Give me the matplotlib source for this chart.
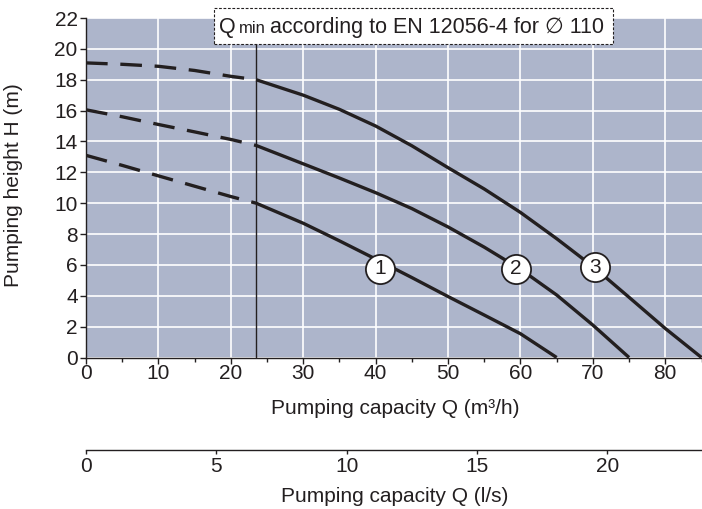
import matplotlib
matplotlib.use("Agg")
import matplotlib.pyplot as plt
from matplotlib.patches import Rectangle

plt.rcParams['font.family'] = ['Liberation Sans Narrow', 'Liberation Sans', 'DejaVu Sans']

# ---- data ----
q_min = 23.5
q_dash = [0, 5, 10, 15, 20, 23.5]
h1_dash = [13.1, 12.45, 11.77, 11.1, 10.43, 10.0]
h2_dash = [16.05, 15.6, 15.1, 14.62, 14.13, 13.74]
h3_dash = [19.09, 19.0, 18.87, 18.6, 18.22, 18.0]

q1 = [23.5, 30, 35, 40, 45, 50, 55, 60, 65]
h1 = [10.0, 8.7, 7.56, 6.38, 5.18, 3.95, 2.75, 1.54, 0.0]
q2 = [23.5, 30, 35, 40, 45, 50, 55, 60, 65, 70, 75]
h2 = [13.74, 12.55, 11.63, 10.68, 9.65, 8.46, 7.15, 5.72, 4.05, 2.1, 0.0]
q3 = [23.5, 30, 35, 40, 45, 50, 55, 60, 65, 70, 75, 80, 85]
h3 = [18.0, 17.0, 16.08, 15.0, 13.72, 12.3, 10.92, 9.4, 7.7, 5.9, 3.9, 1.88, 0.0]

label_names = ['1', '2', '3']
label_q = [40.6, 59.4, 70.3]
label_h = [5.75, 5.75, 5.85]

x_ticks = [0, 10, 20, 30, 40, 50, 60, 70, 80]
y_ticks = [0, 2, 4, 6, 8, 10, 12, 14, 16, 18, 20, 22]
ls_ticks = [0, 5, 10, 15, 20]

W, H = 702, 509
fig = plt.figure(figsize=(W / 100, H / 100), dpi=100)

def fx(px):
    return px / W

def fy(py):
    return 1 - py / H

lc = '#231f20'
left, right, top, bottom = 86, 701.5, 18, 357.5
ax = fig.add_axes([fx(left), fy(bottom), fx(right) - fx(left), fy(top) - fy(bottom)])
ax.set_facecolor('#adb5cb')
ax.set_xlim(0, 85)
ax.set_ylim(0, 22)
ax.set_xticks(x_ticks)
ax.set_xticks(range(0, 86, 5), minor=True)
ax.set_yticks(y_ticks)
ax.grid(True, which='major', color='white', lw=1.2)
ax.set_axisbelow(True)
for s in ['top', 'right']:
    ax.spines[s].set_visible(False)
for s in ['left', 'bottom']:
    ax.spines[s].set_color(lc)
    ax.spines[s].set_linewidth(1.0)
ax.tick_params(axis='both', which='major', length=4, width=1.0, color=lc,
               labelsize=15, labelcolor=lc, pad=2)
ax.tick_params(axis='x', which='major', pad=1)
ax.tick_params(axis='x', which='minor', length=3, width=1.0, color=lc)

fig.text(fx(395), fy(408), 'Pumping capacity Q (m³/h)', fontsize=15, color=lc,
         ha='center', va='center')
fig.text(fx(14), fy(185), 'Pumping height H (m)', fontsize=15, color=lc,
         ha='center', va='center', rotation=90)

lw = 2.4
dash = (0, (6.5, 3.8))
for hd in (h1_dash, h2_dash, h3_dash):
    ax.plot(q_dash, hd, color=lc, lw=lw, ls=dash, solid_capstyle='butt', dash_capstyle='butt')
for qq, hh in ((q1, h1), (q2, h2), (q3, h3)):
    ax.plot(qq, hh, color=lc, lw=lw, solid_capstyle='butt', solid_joinstyle='round')

ax.axvline(q_min, color=lc, lw=1.0, zorder=3)

for name, qx, hy in zip(label_names, label_q, label_h):
    ax.plot([qx], [hy], marker='o', ms=21, mfc='white', mec=lc, mew=1.3, zorder=5)
    ax.text(qx, hy, name, ha='center', va='center', fontsize=15, color=lc, zorder=6)

# secondary l/s axis
ax2 = fig.add_axes([fx(left), fy(450), fx(right) - fx(left), 0.0001])
ax2.set_xlim(0, 85 / 3.6)
ax2.set_ylim(0, 1)
ax2.set_yticks([])
ax2.set_xticks(ls_ticks)
ax2.patch.set_visible(False)
for s in ['top', 'right', 'left']:
    ax2.spines[s].set_visible(False)
ax2.spines['bottom'].set_color(lc)
ax2.spines['bottom'].set_linewidth(1.0)
ax2.tick_params(axis='x', length=3, width=1.0, color=lc, labelsize=15, labelcolor=lc, pad=2)
fig.text(fx(395), fy(497), 'Pumping capacity Q (l/s)', fontsize=15, color=lc,
         ha='center', va='center')

# annotation box
box = Rectangle((fx(214), fy(44)), fx(613) - fx(214), fy(8) - fy(44),
                transform=fig.transFigure, facecolor='white', edgecolor=lc,
                lw=0.8, ls=(0, (2.5, 1.5)), zorder=10)
fig.patches.append(box)

fig.canvas.draw()
renderer = fig.canvas.get_renderer()
t1 = fig.text(fx(219), fy(33), 'Q', fontsize=15.5, color=lc, zorder=11)
ext = t1.get_window_extent(renderer)
t2 = fig.text(ext.x1 / W + fx(3), fy(33), 'min', fontsize=12, color=lc, zorder=11)
ext2 = t2.get_window_extent(renderer)
t3 = fig.text(ext2.x1 / W + fx(4), fy(33), 'according to EN 12056-4 for ∅ 110',
              fontsize=15.5, color=lc, zorder=11)

fig.savefig('out.png', dpi=100)
